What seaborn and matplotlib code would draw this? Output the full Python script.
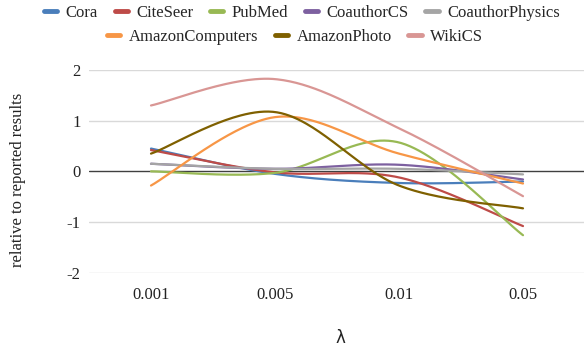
import numpy as np
import pandas as pd
import matplotlib
matplotlib.use('Agg')
import matplotlib.pyplot as plt
from matplotlib.lines import Line2D
import seaborn as sns

# data
lambdas = ['0.001', '0.005', '0.01', '0.05']
cora = [0.45, -0.05, -0.23, -0.20]
citeseer = [0.42, -0.02, -0.12, -1.08]
pubmed = [0.00, -0.03, 0.57, -1.26]
coauthor_cs = [0.15, 0.05, 0.13, -0.16]
coauthor_physics = [0.15, 0.05, 0.05, -0.06]
amazon_computers = [-0.28, 1.07, 0.35, -0.24]
amazon_photo = [0.35, 1.17, -0.28, -0.73]
wikics = [1.30, 1.82, 0.85, -0.49]

names = ['Cora', 'CiteSeer', 'PubMed', 'CoauthorCS', 'CoauthorPhysics',
         'AmazonComputers', 'AmazonPhoto', 'WikiCS']
series = [cora, citeseer, pubmed, coauthor_cs, coauthor_physics,
          amazon_computers, amazon_photo, wikics]
colors = ['#4A7EBB', '#BE4B48', '#98B954', '#7D60A0', '#A5A5A5',
          '#F79646', '#7F6000', '#D99694']


def smooth(vals, n=60):
    # Excel-style smoothed line (bezier through the points)
    p = np.array(vals, dtype=float)
    x = np.arange(len(p), dtype=float)
    pts = np.column_stack([x, p])
    ext = np.vstack([pts[0], pts, pts[-1]])
    t = np.linspace(0, 1, n)
    out = []
    for i in range(len(pts) - 1):
        p0, p1, p2, p3 = ext[i], ext[i + 1], ext[i + 2], ext[i + 3]
        c1 = p1 + (p2 - p0) / 6
        c2 = p2 - (p3 - p1) / 6
        seg = ((1 - t)[:, None] ** 3 * p1 + 3 * ((1 - t) ** 2 * t)[:, None] * c1
               + 3 * ((1 - t) * t ** 2)[:, None] * c2 + (t ** 3)[:, None] * p2)
        out.append(seg if i == 0 else seg[1:])
    return np.vstack(out)


rows = []
for name, vals in zip(names, series):
    curve = smooth(vals)
    rows.append(pd.DataFrame({'x': curve[:, 0], 'y': curve[:, 1], 'dataset': name}))
df = pd.concat(rows, ignore_index=True)

sns.set_theme(style='white')
plt.rcParams['font.family'] = ['Liberation Serif', 'DejaVu Serif']
serif = ['Liberation Serif', 'DejaVu Serif']

fig = plt.figure(figsize=(5.84, 3.47), dpi=100)
ax = fig.add_axes([89 / 584, 1 - 272.7 / 347, 496 / 584, 202.7 / 347])

for yv in [-2, -1, 1, 2]:
    ax.axhline(yv, color='#D9D9D9', lw=1, zorder=0)
ax.axhline(0, color='#404040', lw=1, zorder=1)

sns.lineplot(data=df, x='x', y='y', hue='dataset', palette=dict(zip(names, colors)),
             hue_order=names, sort=False, estimator=None, lw=1.6, legend=False, ax=ax)

ax.set_xlim(-0.5, 3.5)
ax.set_ylim(-2, 2)
ax.set_xticks(range(len(lambdas)))
ax.set_xticklabels(lambdas, family=serif)
ax.set_yticks([-2, -1, 0, 1, 2])
ax.set_yticklabels(['-2', '-1', '0', '1', '2'], family=serif)
ax.tick_params(axis='x', length=0, pad=10, labelsize=12, colors='#222222')
ax.tick_params(axis='y', length=0, pad=6, labelsize=12, colors='#222222')
ax.set_xlabel('')
ax.set_ylabel('')
for s in ax.spines.values():
    s.set_visible(False)

fig.text(18 / 584, 1 - 180 / 347, 'relative to reported results', rotation=90,
         ha='center', va='center', fontsize=12, color='#222222', family=serif)
fig.text(340 / 584, 1 - 338 / 347, 'λ', ha='center', va='center', fontsize=12,
         color='#222222', family=['DejaVu Sans'])

handles = [Line2D([0], [0], color=c, lw=3.5) for c in colors]
kw = dict(frameon=False, handlelength=0.8, handletextpad=0.5,
          columnspacing=1.0, borderaxespad=0, borderpad=0,
          prop={'family': serif, 'size': 12})
fig.legend(handles[:5], names[:5], loc='center', ncol=5,
           bbox_to_anchor=(302 / 584, 1 - 13 / 347), **kw)
fig.legend(handles[5:], names[5:], loc='center', ncol=3,
           bbox_to_anchor=(295 / 584, 1 - 37 / 347), **kw)

fig.savefig('out.png', dpi=100)
